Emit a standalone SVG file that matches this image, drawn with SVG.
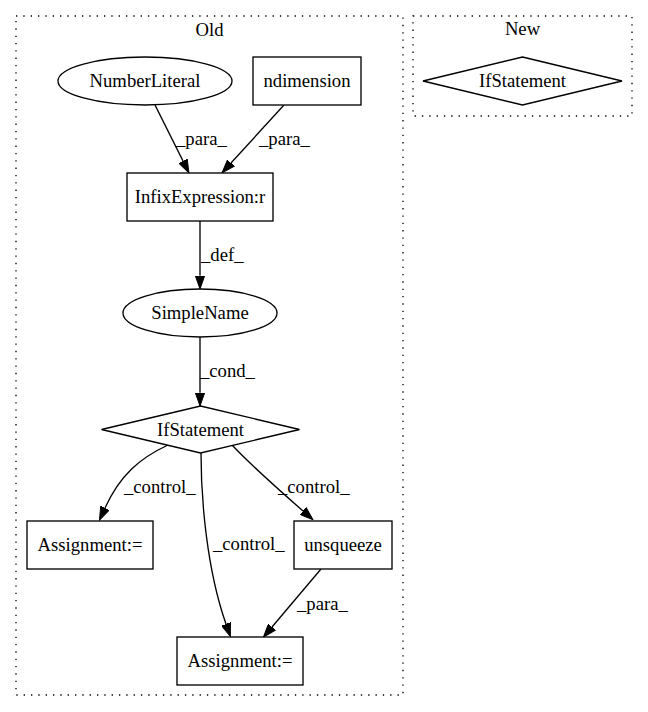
<svg xmlns="http://www.w3.org/2000/svg" width="648" height="712" viewBox="0 0 648 712">
<style>
text{font-family:"Liberation Serif","Times New Roman",serif;font-size:18.67px;fill:#000}
.n{text-anchor:middle}
.shape{fill:#fff;stroke:#000;stroke-width:1.33}
.cl{fill:none;stroke:#000;stroke-width:1.33;stroke-dasharray:1.33,6}
.e{fill:none;stroke:#000;stroke-width:1.33}
</style>
<defs>
<marker id="arr" viewBox="0 -5 14 10" refX="0" refY="0" markerUnits="userSpaceOnUse" markerWidth="14" markerHeight="10" orient="auto">
<path d="M0,-4.7 L13.3,0 L0,4.7 z" fill="#000" stroke="#000" stroke-width="1"/>
</marker>
</defs>
<rect width="648" height="712" fill="#fff"/>
<g id="cluster_old">
<rect class="cl" x="16" y="16" width="387" height="679"/>
<text class="n" x="209.5" y="36">Old</text>
</g>
<g id="cluster_new">
<rect class="cl" x="413" y="16" width="219" height="100"/>
<text class="n" x="522.5" y="35">New</text>
</g>
<g id="edges">
<path class="e" d="M155,105 L183,161" marker-end="url(#arr)"/>
<text x="176" y="145">_para_</text>
<path class="e" d="M284,105 L231,163" marker-end="url(#arr)"/>
<text x="259" y="145">_para_</text>
<path class="e" d="M200,221 L200,275.7" marker-end="url(#arr)"/>
<text x="201" y="261">_def_</text>
<path class="e" d="M200,337 L200,392.7" marker-end="url(#arr)"/>
<text x="200" y="377">_cond_</text>
<path class="e" d="M168,445 C140,458 120,475 105,508" marker-end="url(#arr)"/>
<text x="124" y="493">_control_</text>
<path class="e" d="M201,453 C201,500 207,570 226,624" marker-end="url(#arr)"/>
<text x="213" y="550">_control_</text>
<path class="e" d="M232,445 C248,462 270,482 303,511" marker-end="url(#arr)"/>
<text x="278" y="493">_control_</text>
<path class="e" d="M321,569 L272,627" marker-end="url(#arr)"/>
<text x="297" y="610">_para_</text>
</g>
<g id="NumberLiteral">
<ellipse class="shape" cx="145" cy="81" rx="87" ry="24"/>
<text class="n" x="145" y="87">NumberLiteral</text>
</g>
<g id="ndimension">
<rect class="shape" x="253" y="57" width="108" height="48"/>
<text class="n" x="307" y="87">ndimension</text>
</g>
<g id="InfixExpression">
<rect class="shape" x="127" y="173" width="146" height="48"/>
<text class="n" x="200" y="203">InfixExpression:r</text>
</g>
<g id="SimpleName">
<ellipse class="shape" cx="200" cy="313" rx="77" ry="24"/>
<text class="n" x="200" y="319">SimpleName</text>
</g>
<g id="IfStatement_old">
<polygon class="shape" points="200.5,406 299.5,429.5 200.5,453 101.5,429.5"/>
<text class="n" x="200.5" y="435.5">IfStatement</text>
</g>
<g id="Assignment1">
<rect class="shape" x="27" y="521" width="126" height="48"/>
<text class="n" x="90" y="551">Assignment:=</text>
</g>
<g id="unsqueeze">
<rect class="shape" x="294" y="521" width="98" height="48"/>
<text class="n" x="343" y="551">unsqueeze</text>
</g>
<g id="Assignment2">
<rect class="shape" x="177" y="637" width="126" height="48"/>
<text class="n" x="240" y="667">Assignment:=</text>
</g>
<g id="IfStatement_new">
<polygon class="shape" points="522.5,57 622,81 522.5,105 423,81"/>
<text class="n" x="522.5" y="87">IfStatement</text>
</g>
</svg>
